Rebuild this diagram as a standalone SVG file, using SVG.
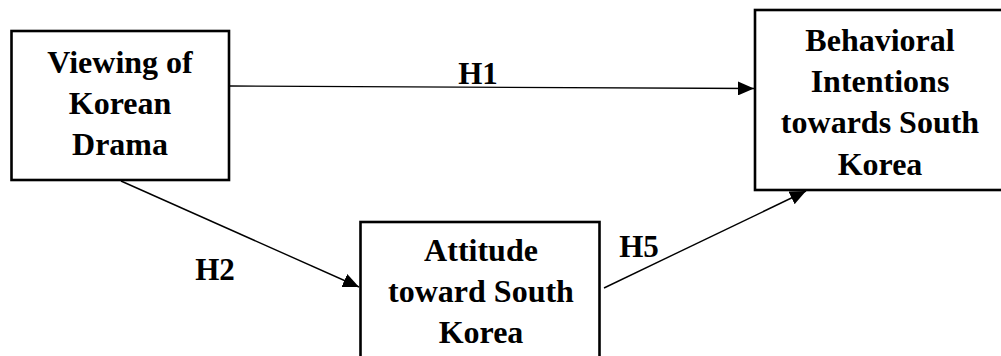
<svg xmlns="http://www.w3.org/2000/svg" width="1001" height="356" viewBox="0 0 1001 356">
<defs>
<style>
.box{fill:#fff;stroke:#000;stroke-width:2.6}
.t,.lbl{font-family:'Liberation Serif','Times New Roman','DejaVu Serif',serif;font-weight:700;fill:#000;text-anchor:middle}
.t{font-size:32px}
.lbl{font-size:31px}
.edge{stroke:#000;stroke-width:1.4;fill:none}
</style>
<marker id="ah" viewBox="0 0 16 14" refX="16" refY="7" markerWidth="16" markerHeight="14" markerUnits="userSpaceOnUse" orient="auto">
<path d="M0,0 L16,7 L0,14 Z" fill="#000"/>
</marker>
</defs>
<rect width="1001" height="356" fill="#fff"/>
<g id="connectors">
<line class="edge" x1="230" y1="86" x2="754" y2="88.5" marker-end="url(#ah)"/>
<line class="edge" x1="121" y1="181" x2="359" y2="287" marker-end="url(#ah)"/>
<line class="edge" x1="604" y1="288" x2="806" y2="191" marker-end="url(#ah)"/>
<text class="lbl" x="478" y="84" font-family="Liberation Serif, serif">H1</text>
<text class="lbl" x="215" y="280" font-family="Liberation Serif, serif">H2</text>
<text class="lbl" x="639" y="257" font-family="Liberation Serif, serif">H5</text>
</g>
<g id="viewing" font-family="Liberation Serif, serif">
<rect class="box" x="11.5" y="31" width="217.5" height="149"/>
<text class="t" x="120" y="73">Viewing of</text>
<text class="t" x="120" y="114">Korean</text>
<text class="t" x="120" y="155">Drama</text>
</g>
<g id="intentions">
<rect class="box" x="755" y="10" width="252" height="180"/>
<text class="t" x="880" y="51">Behavioral</text>
<text class="t" x="880" y="92">Intentions</text>
<text class="t" x="880" y="133">towards South</text>
<text class="t" x="880" y="175">Korea</text>
</g>
<g id="attitude">
<rect class="box" x="360.5" y="222" width="239" height="150"/>
<text class="t" x="481" y="261">Attitude</text>
<text class="t" x="481" y="302">toward South</text>
<text class="t" x="481" y="343">Korea</text>
</g>
</svg>
